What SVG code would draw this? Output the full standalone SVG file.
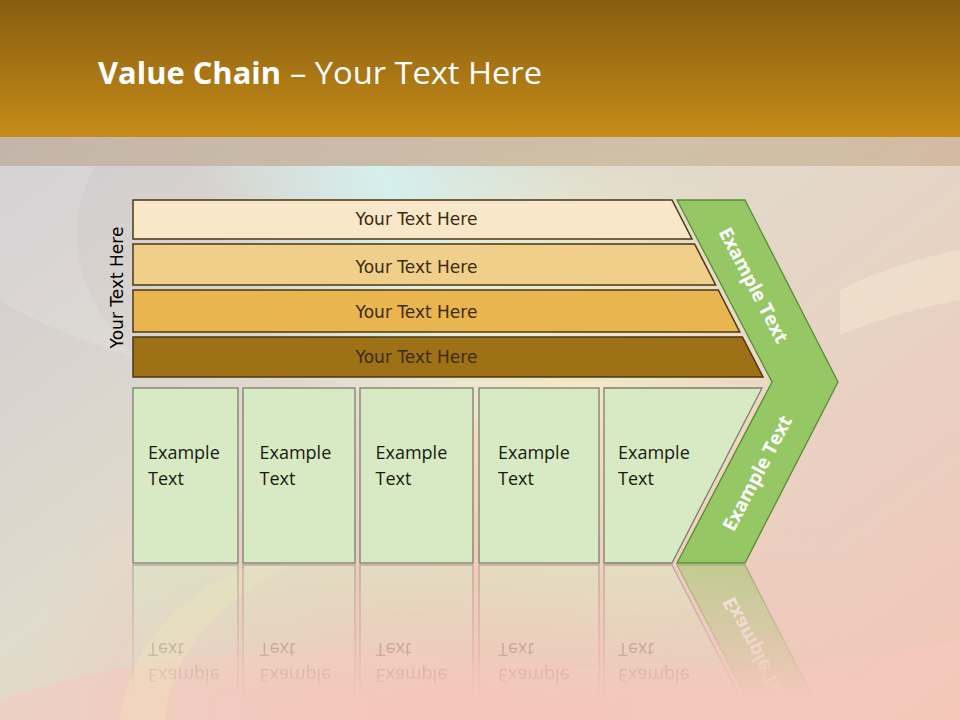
<svg xmlns="http://www.w3.org/2000/svg" xmlns:xlink="http://www.w3.org/1999/xlink" width="960" height="720" viewBox="0 0 960 720">
<defs>
<style>
.bar{stroke:#4b3714;stroke-width:1.5}
.bt{font-family:"DejaVu Sans",Verdana,sans-serif;font-size:17px;fill:#3a2b10;text-anchor:middle}
.box{fill:#d7eac4;stroke:#7d7d70;stroke-width:1.3}
.ex{font-family:"Open Sans","Liberation Sans",sans-serif;font-size:18px;fill:#1a1a10}
.chev{fill:#95c864;stroke:#5b8a36;stroke-width:1.3}
.ct{font-family:"Open Sans","Liberation Sans",sans-serif;font-size:19px;font-weight:bold;fill:#ffffff;text-anchor:middle}
.ttl{font-family:"Open Sans","Liberation Sans",sans-serif;font-size:31px;fill:#ffffff}
</style>
<linearGradient id="hdr" x1="0" y1="0" x2="0" y2="1">
<stop offset="0" stop-color="#885d10"/>
<stop offset="1" stop-color="#c68c19"/>
</linearGradient>
<linearGradient id="bg" x1="0" y1="0" x2="1" y2="1">
<stop offset="0" stop-color="#cbc7d2"/>
<stop offset="0.45" stop-color="#e0dbcc"/>
<stop offset="1" stop-color="#f2c6b8"/>
</linearGradient>
<linearGradient id="cy" x1="250" y1="300" x2="600" y2="150" gradientUnits="userSpaceOnUse">
<stop offset="0" stop-color="#d4f4f2" stop-opacity="0"/>
<stop offset="0.45" stop-color="#d4f4f2" stop-opacity="0.85"/>
<stop offset="1" stop-color="#d4f4f2" stop-opacity="0"/>
</linearGradient>
<radialGradient id="ye" cx="560" cy="400" r="260" gradientUnits="userSpaceOnUse">
<stop offset="0" stop-color="#fbf0c0" stop-opacity="0.8"/>
<stop offset="1" stop-color="#fbf0c0" stop-opacity="0"/>
</radialGradient>
<radialGradient id="pk" cx="450" cy="720" r="420" gradientUnits="userSpaceOnUse">
<stop offset="0" stop-color="#f6c2b8" stop-opacity="0.9"/>
<stop offset="1" stop-color="#f6c2b8" stop-opacity="0"/>
</radialGradient>
<linearGradient id="fadeg" x1="0" y1="565" x2="0" y2="700" gradientUnits="userSpaceOnUse">
<stop offset="0" stop-color="#fff" stop-opacity="0.5"/>
<stop offset="1" stop-color="#fff" stop-opacity="0"/>
</linearGradient>
<mask id="fade" maskUnits="userSpaceOnUse" x="0" y="560" width="960" height="160">
<rect x="0" y="560" width="960" height="160" fill="url(#fadeg)"/>
</mask>
</defs>

<g id="background">
<rect x="0" y="0" width="960" height="720" fill="url(#bg)"/>
<path d="M0 166 L960 166 L960 420 L0 420 Z" fill="url(#cy)"/>
<rect x="0" y="137" width="960" height="583" fill="url(#ye)"/>
<rect x="0" y="137" width="960" height="583" fill="url(#pk)"/>
<path d="M0 166 L95 166 C60 230 75 300 140 360 C80 340 30 320 0 300 Z" fill="#ffffff" opacity="0.12"/>
<path d="M840 290 C880 270 920 258 960 250 L960 300 C920 308 880 318 840 335 Z" fill="#fff6d8" opacity="0.3"/>
<path d="M0 700 C150 650 300 640 480 660 C650 680 800 670 960 640 L960 720 L0 720 Z" fill="#f7c8be" opacity="0.5"/>
<path d="M120 720 C130 650 170 600 250 565 L290 565 C215 605 170 655 165 720 Z" fill="#fbf0b8" opacity="0.25"/>
<rect x="0" y="0" width="960" height="137" fill="url(#hdr)"/>
<rect x="0" y="137" width="960" height="29" fill="#a88050" opacity="0.3"/>
</g>

<g id="title">
<text class="ttl" x="98" y="84" font-weight="bold" textLength="183" lengthAdjust="spacingAndGlyphs">Value Chain</text>
<text class="ttl" x="290" y="84" textLength="252" lengthAdjust="spacingAndGlyphs">– Your Text Here</text>
</g>

<g id="side-label">
<text class="bt" transform="translate(123,287.5) rotate(-90)" style="fill:#000">Your Text Here</text>
</g>

<g id="bar1">
<polygon class="bar" points="133,200 672,200 692,239 133,239" fill="#f8e7c8"/>
<text class="bt" x="416.5" y="225">Your Text Here</text>
</g>
<g id="bar2">
<polygon class="bar" points="133,244 694.6,244 715.7,285 133,285" fill="#f0cf8b"/>
<text class="bt" x="416.5" y="272.5">Your Text Here</text>
</g>
<g id="bar3">
<polygon class="bar" points="133,290 718.3,290 739.8,332 133,332" fill="#e9b54e"/>
<text class="bt" x="416.5" y="317.5">Your Text Here</text>
</g>
<g id="bar4">
<polygon class="bar" points="133,337 742.4,337 763,377 133,377" fill="#9f7117"/>
<text class="bt" x="416.5" y="362.5">Your Text Here</text>
</g>

<g id="lower">
<g id="box1">
<rect class="box" x="133" y="388" width="105" height="175"/>
<text class="ex" x="148" y="459">Example</text>
<text class="ex" x="148" y="485">Text</text>
</g>
<g id="box2">
<rect class="box" x="243" y="388" width="112" height="175"/>
<text class="ex" x="259.5" y="459">Example</text>
<text class="ex" x="259.5" y="485">Text</text>
</g>
<g id="box3">
<rect class="box" x="360" y="388" width="113" height="175"/>
<text class="ex" x="375.5" y="459">Example</text>
<text class="ex" x="375.5" y="485">Text</text>
</g>
<g id="box4">
<rect class="box" x="479" y="388" width="120" height="175"/>
<text class="ex" x="498" y="459">Example</text>
<text class="ex" x="498" y="485">Text</text>
</g>
<g id="box5">
<polygon class="box" points="604,388 762,388 672,563 604,563"/>
<text class="ex" x="618" y="459">Example</text>
<text class="ex" x="618" y="485">Text</text>
</g>
<g id="chevron">
<polygon class="chev" points="677,200 745,200 838,382 745,563 677,563 772,382"/>
<text class="ct" transform="translate(754,285) rotate(62.4)" y="7">Example Text</text>
<text class="ct" transform="translate(757,473) rotate(-62.4)" y="7">Example Text</text>
</g>
</g>

<g id="reflection" mask="url(#fade)">
<use xlink:href="#lower" href="#lower" transform="translate(0,1128) scale(1,-1)"/>
</g>

<g id="connectors"/>
</svg>
